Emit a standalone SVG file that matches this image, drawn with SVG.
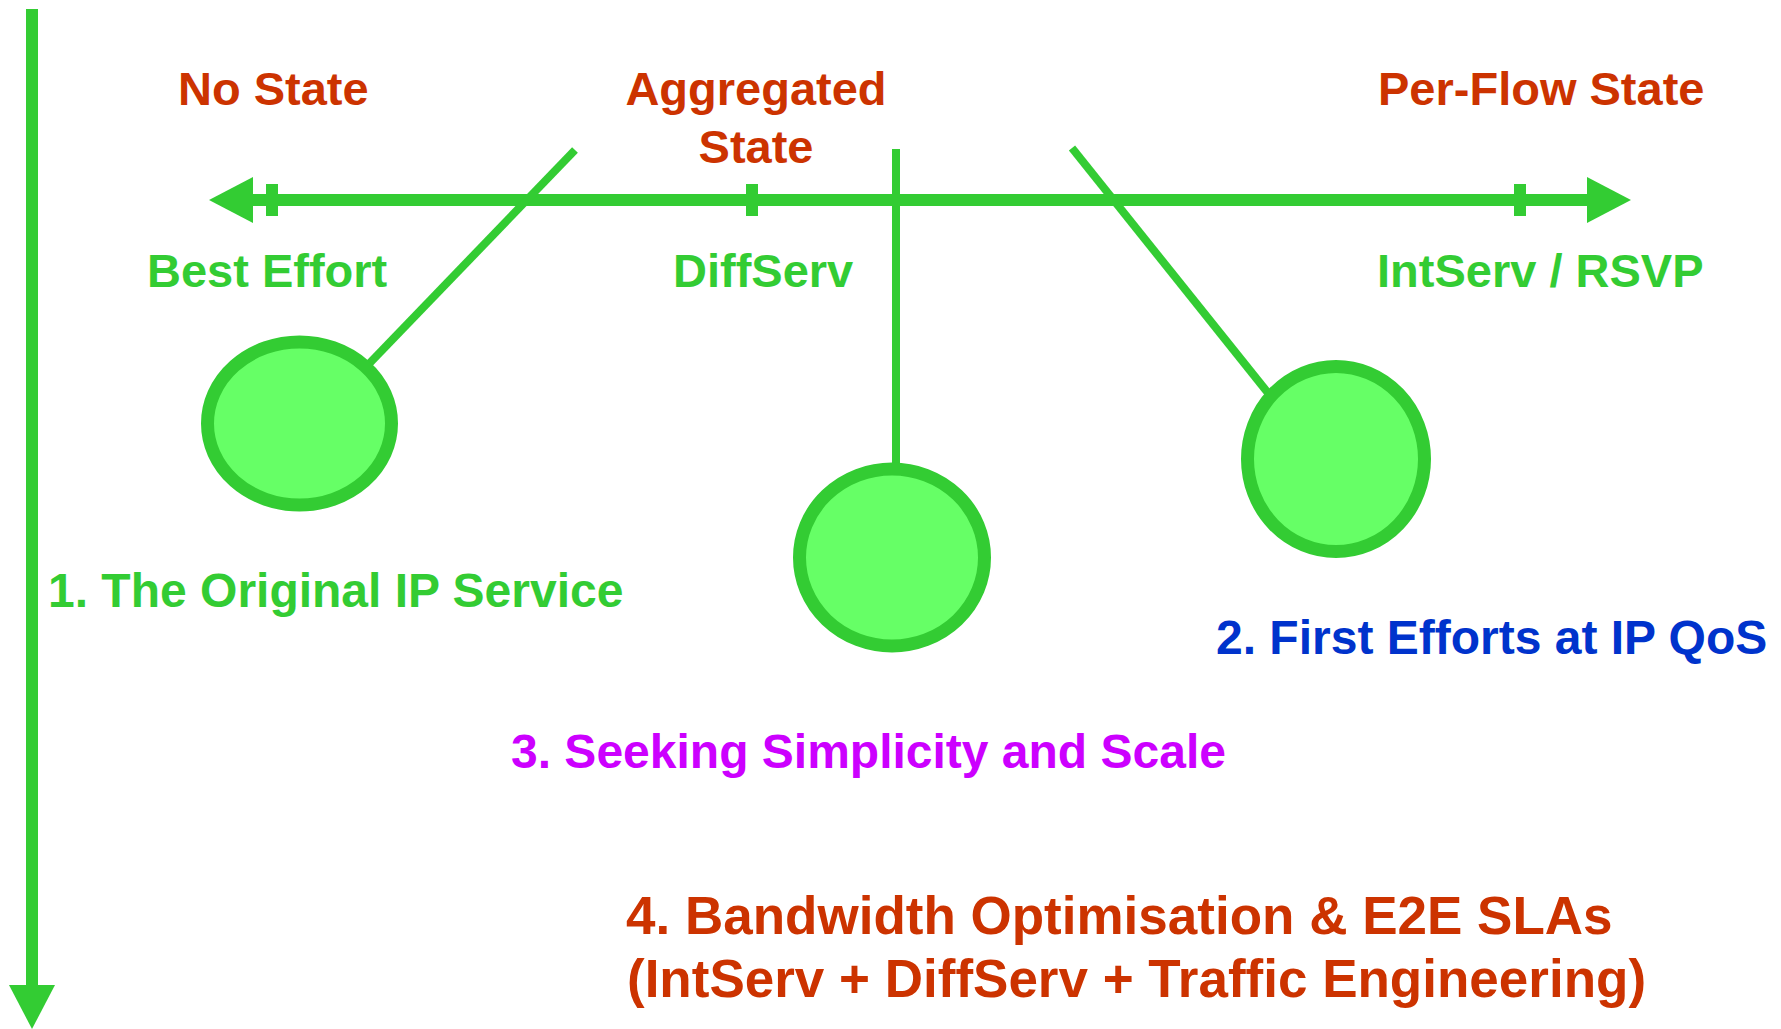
<svg xmlns="http://www.w3.org/2000/svg" width="1781" height="1029" viewBox="0 0 1781 1029">
  <style>
    text { font-family: "Liberation Sans", Arial, Helvetica, sans-serif; font-weight: bold; }
    .state { font-size: 47px; fill: #CC3300; }
    .model { font-size: 47px; fill: #33CC33; }
    .stage { font-size: 48px; }
    .big { font-size: 53px; fill: #CC3300; }
    .axis { stroke: #33CC33; stroke-width: 12; fill: none; }
    .link { stroke: #33CC33; stroke-width: 8; fill: none; }
    .tick { fill: #33CC33; }
    .bubble { fill: #66FF66; stroke: #33CC33; stroke-width: 13; }
  </style>
  <defs>
    <marker id="arrow" markerUnits="userSpaceOnUse" markerWidth="44" markerHeight="46" viewBox="0 0 44 46" refX="0" refY="23" orient="auto-start-reverse">
      <path d="M0,0 L44,23 L0,46 Z" fill="#33CC33"/>
    </marker>
  </defs>
  <rect width="1781" height="1029" fill="#FFFFFF"/>

  <!-- state axis, timeline and the leaders to each stage -->
  <g id="connectors">
    <line class="axis" x1="32" y1="9" x2="32" y2="985" marker-end="url(#arrow)"/>
    <line class="axis" x1="253" y1="200" x2="1587" y2="200" marker-start="url(#arrow)" marker-end="url(#arrow)"/>
    <rect class="tick" x="266" y="184" width="12" height="32"/>
    <rect class="tick" x="746" y="184" width="12" height="32"/>
    <rect class="tick" x="1514" y="184" width="12" height="32"/>
    <line class="link" x1="575" y1="150" x2="365" y2="368"/>
    <line class="link" x1="896" y1="149" x2="896" y2="475"/>
    <line class="link" x1="1072" y1="148" x2="1272" y2="398"/>
  </g>

  <!-- axis labels -->
  <g id="label-no-state">
    <text class="state" x="178" y="105">No State</text>
  </g>
  <g id="label-aggregated-state">
    <text class="state" x="756" y="105" text-anchor="middle">Aggregated</text>
    <text class="state" x="756" y="163" text-anchor="middle">State</text>
  </g>
  <g id="label-per-flow-state">
    <text class="state" x="1378" y="105">Per-Flow State</text>
  </g>
  <g id="label-best-effort">
    <text class="model" x="147" y="287">Best Effort</text>
  </g>
  <g id="label-diffserv">
    <text class="model" x="673" y="287">DiffServ</text>
  </g>
  <g id="label-intserv">
    <text class="model" x="1377" y="287">IntServ / RSVP</text>
  </g>

  <!-- stages -->
  <g id="stage-1">
    <ellipse class="bubble" cx="299.5" cy="423.5" rx="92" ry="81.5"/>
    <text class="stage" x="48" y="607" fill="#33CC33">1. The Original IP Service</text>
  </g>
  <g id="stage-2">
    <ellipse class="bubble" cx="1336" cy="459" rx="88.5" ry="92.5"/>
    <text class="stage" x="1216" y="654" fill="#0033CC">2. First Efforts at IP QoS</text>
  </g>
  <g id="stage-3">
    <ellipse class="bubble" cx="892" cy="557.5" rx="92.5" ry="88.5"/>
    <text class="stage" x="511" y="768" fill="#CC00FF">3. Seeking Simplicity and Scale</text>
  </g>
  <g id="stage-4">
    <text class="big" x="626" y="934">4. Bandwidth Optimisation &amp; E2E SLAs</text>
    <text class="big" x="627" y="997">(IntServ + DiffServ + Traffic Engineering)</text>
  </g>
</svg>
